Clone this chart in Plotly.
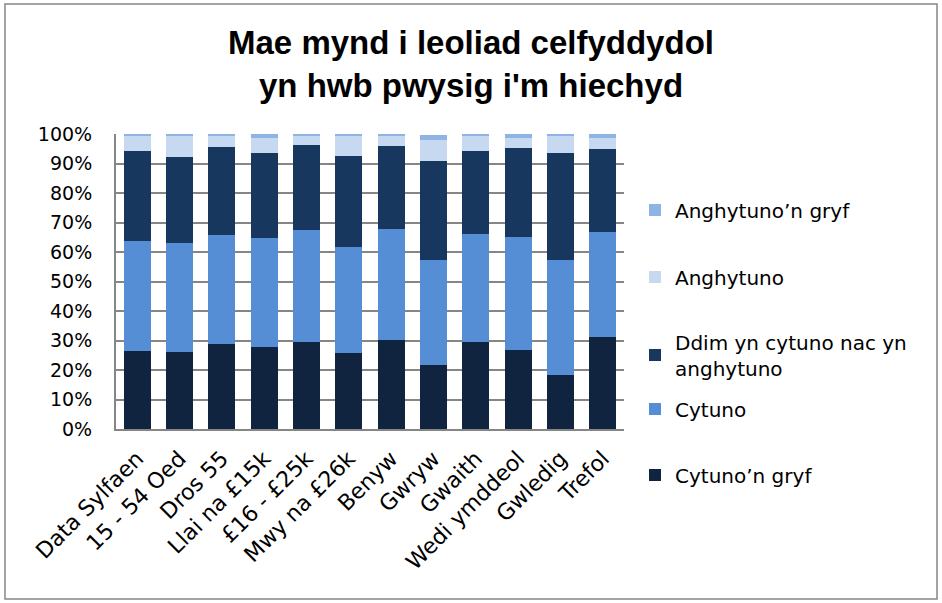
import plotly.graph_objects as go

categories = ["Data Sylfaen", "15 - 54 Oed", "Dros 55", "Llai na £15k", "£16 - £25k",
              "Mwy na £26k", "Benyw", "Gwryw", "Gwaith", "Wedi ymddeol", "Gwledig", "Trefol"]

cytuno_gryf = [26.6, 26.1, 28.7, 27.7, 29.5, 25.8, 30.2, 21.8, 29.4, 26.9, 18.3, 31.3]
cytuno = [37.2, 36.8, 37.1, 36.9, 38.1, 35.9, 37.7, 35.6, 36.7, 38.2, 39.1, 35.6]
ddim = [30.3, 29.4, 29.8, 29.1, 28.7, 31.0, 28.0, 33.4, 28.0, 30.0, 36.3, 27.9]
anghytuno = [5.4, 7.2, 4.0, 4.9, 3.3, 6.8, 3.6, 7.1, 5.4, 3.4, 5.8, 4.0]
anghytuno_gryf = [0.5, 0.5, 0.4, 1.4, 0.4, 0.5, 0.5, 1.7, 0.5, 1.5, 0.5, 1.2]

series_names = ["Cytuno’n gryf", "Cytuno", "Ddim yn cytuno nac yn<br>anghytuno",
                "Anghytuno", "Anghytuno’n gryf"]
series_values = [cytuno_gryf, cytuno, ddim, anghytuno, anghytuno_gryf]
series_colors = ["#10243F", "#558ED5", "#17375E", "#C6D9F1", "#8EB4E3"]

ytick_vals = [0, 10, 20, 30, 40, 50, 60, 70, 80, 90, 100]
ytick_text = ["0%", "10%", "20%", "30%", "40%", "50%", "60%", "70%", "80%", "90%", "100%"]

W, H = 942, 603
L, R, T, B = 116, 318, 134, 174
pw, ph = W - L - R, H - T - B

def px_to_paper_x(px):
    return (px - L) / pw

def px_to_paper_y(py):
    return (H - B - py) / ph

# legend entry centres (px from top), one legend per series
legend_centres = [475, 409, 355, 277, 210]

fig = go.Figure()
legend_layouts = {}
for i, (name, vals, col) in enumerate(zip(series_names, series_values, series_colors)):
    lname = "legend" if i == 0 else f"legend{i + 1}"
    fig.add_trace(go.Bar(x=categories, y=vals, name=name, marker_color=col,
                         marker_line_width=0, legend=lname, showlegend=True))
    legend_layouts[lname] = dict(
        x=px_to_paper_x(635), y=px_to_paper_y(legend_centres[i]),
        xanchor="left", yanchor="middle",
        font=dict(family="DejaVu Sans", size=20, color="#000000"),
        bgcolor="rgba(0,0,0,0)")

fig.update_layout(
    width=W, height=H,
    margin=dict(l=L, r=R, t=T, b=B, autoexpand=False),
    showlegend=True,
    barmode="stack",
    bargap=0.36,
    plot_bgcolor="white",
    paper_bgcolor="white",
    font=dict(family="DejaVu Sans", size=19, color="#000000"),
    title=dict(text="<b>Mae mynd i leoliad celfyddydol<br>yn hwb pwysig i'm hiechyd</b>",
               font=dict(family="Liberation Sans", size=33, color="#000000"),
               x=0.5, xanchor="center", y=1 - 54 / H, yanchor="middle", yref="container"),
    xaxis=dict(tickangle=-45, showline=True, linecolor="#868686", linewidth=2,
               ticks="", tickfont=dict(size=22), showgrid=False, ticklabelstandoff=6),
    yaxis=dict(range=[0, 100], tickvals=ytick_vals, ticktext=ytick_text,
               showgrid=True, gridcolor="#868686", gridwidth=2,
               showline=True, linecolor="#868686", linewidth=2,
               ticks="", ticklabelstandoff=18, tickfont=dict(size=19), zeroline=False),
    shapes=[dict(type="rect", xref="paper", yref="paper",
                 x0=px_to_paper_x(5), x1=px_to_paper_x(937),
                 y0=px_to_paper_y(599), y1=px_to_paper_y(4),
                 line=dict(color="#868686", width=1.5), fillcolor="rgba(0,0,0,0)", layer="below")],
    **legend_layouts,
)

fig.write_html("out.html", config={"displayModeBar": False},
               post_script="document.body.style.margin='0';")
